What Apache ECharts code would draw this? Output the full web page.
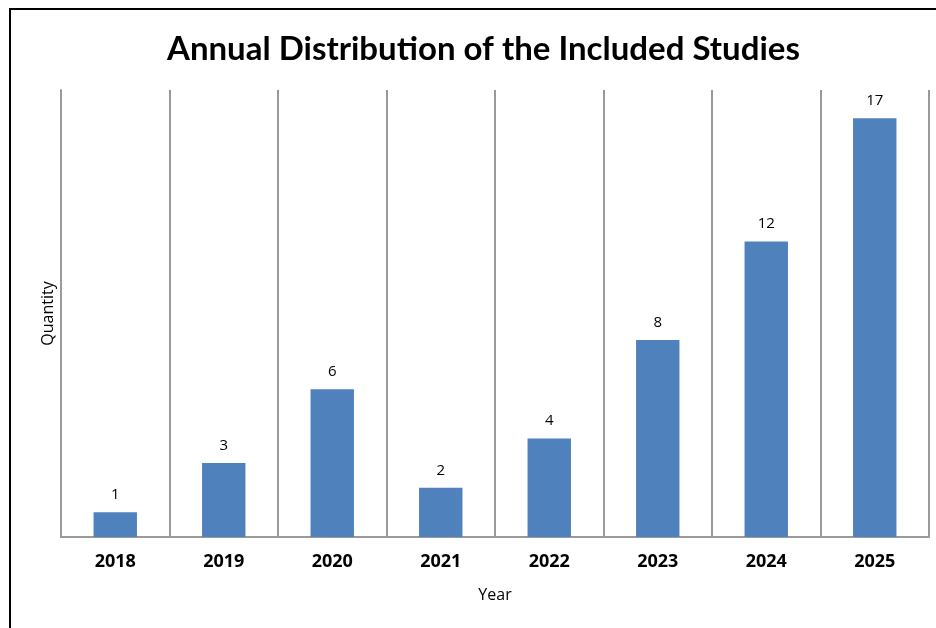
<!DOCTYPE html>
<html>
<head>
<meta charset="utf-8">
<style>html,body{margin:0;padding:0;background:#fff;}#c{width:936px;height:628px;}</style>
<script src="https://cdn.jsdelivr.net/npm/echarts@6/dist/echarts.min.js"></script>
</head>
<body>
<div id="c"></div>
<script>
var years = ['2018', '2019', '2020', '2021', '2022', '2023', '2024', '2025'];
var quantities = [1, 3, 6, 2, 4, 8, 12, 17];
var titleText = 'Annual Distribution of the Included Studies';

var chart = echarts.init(document.getElementById('c'));
chart.setOption({
  backgroundColor: '#fff',
  animation: false,
  title: {
    text: titleText,
    left: 162,
    top: 28,
    textStyle: { fontFamily: 'Lato', fontWeight: 'bold', fontSize: 33, color: '#000' }
  },
  graphic: [{
    type: 'rect',
    shape: { x: 10, y: 9, width: 960, height: 660 },
    style: { fill: 'none', stroke: '#000', lineWidth: 2 },
    silent: true
  }],
  grid: { left: 61, right: 7, top: 90, bottom: 91 },
  xAxis: {
    type: 'category',
    data: years,
    name: 'Year',
    nameLocation: 'middle',
    nameGap: 50,
    nameTextStyle: { fontFamily: 'Open Sans', fontSize: 16, color: '#000' },
    axisTick: { show: false },
    axisLine: { lineStyle: { color: '#9a9a9a', width: 2 } },
    axisLabel: { margin: 16, fontFamily: 'Open Sans', fontWeight: 'bold', fontSize: 18, color: '#000' },
    splitLine: { show: true, lineStyle: { color: '#9a9a9a', width: 2 } }
  },
  yAxis: {
    type: 'value',
    min: 0,
    max: 18.15,
    name: 'Quantity',
    nameLocation: 'middle',
    nameGap: 5,
    nameRotate: 90,
    nameTextStyle: { fontFamily: 'Open Sans', fontSize: 16, color: '#000' },
    axisLine: { show: true, lineStyle: { color: '#9a9a9a', width: 2 } },
    axisTick: { show: false },
    axisLabel: { show: false },
    splitLine: { show: false }
  },
  series: [{
    type: 'bar',
    data: quantities,
    barWidth: '40%',
    itemStyle: { color: '#4F81BD' },
    label: {
      show: true,
      position: 'top',
      distance: 10,
      fontFamily: 'Open Sans',
      fontSize: 15,
      color: '#000'
    }
  }]
});
</script>
</body>
</html>
